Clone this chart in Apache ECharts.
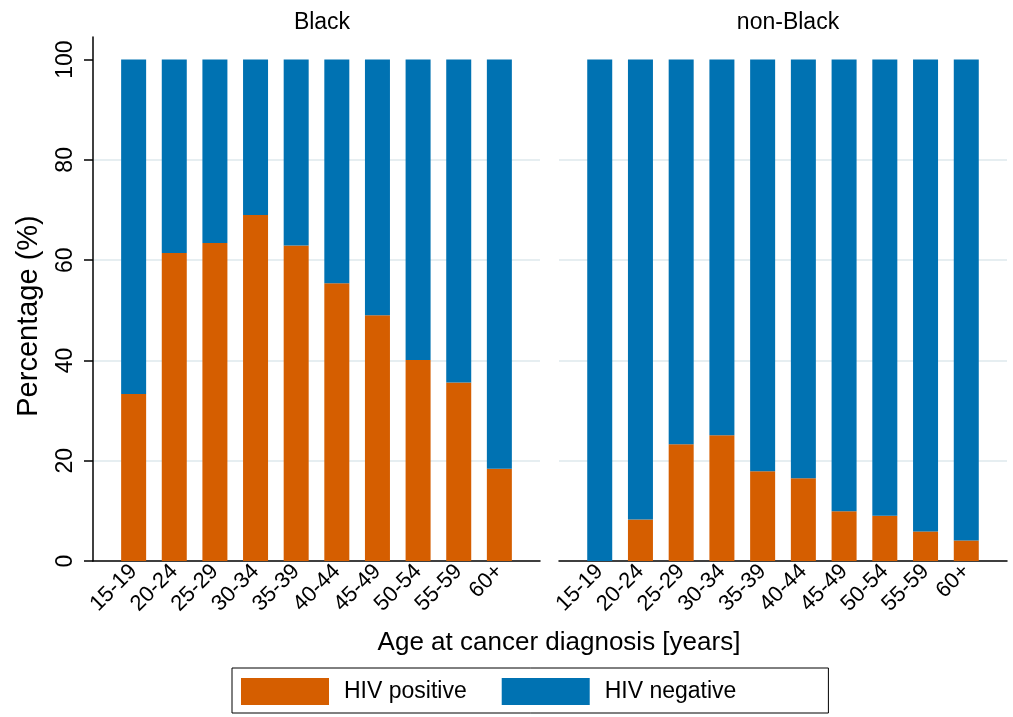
<!DOCTYPE html>
<html>
<head>
<meta charset="utf-8">
<script src="https://cdn.jsdelivr.net/npm/echarts@6/dist/echarts.min.js"></script>
<style>
  html, body { margin: 0; padding: 0; background: #fff; }
  #chart { width: 1013px; height: 717px; }
</style>
</head>
<body>
<div id="chart"></div>
<script>
// age groups
const ageGroups = ['15-19', '20-24', '25-29', '30-34', '35-39', '40-44', '45-49', '50-54', '55-59', '60+']

// Black panel (%)
const blackPositive = [33.3, 61.4, 63.4, 69.0, 62.9, 55.4, 49.0, 40.1, 35.6, 18.4]
const blackNegative = [66.7, 38.6, 36.6, 31.0, 37.1, 44.6, 51.0, 59.9, 64.4, 81.6]

// non-Black panel (%)
const nonBlackPositive = [0, 8.3, 23.3, 25.1, 17.9, 16.5, 9.9, 9.0, 5.9, 4.1]
const nonBlackNegative = [100, 91.7, 76.7, 74.9, 82.1, 83.5, 90.1, 91.0, 94.1, 95.9]

const yTicks = [0, 20, 40, 60, 80, 100]
const panelTitles = ['Black', 'non-Black']

const FONT = 'Liberation Sans, Arial, sans-serif'
const ORANGE = '#d55e00'
const BLUE = '#0072b2'
const GRID_COLOR = '#e6eef1'

// empty slot on each side of the bars, like the outer gaps of the original plot
const padCats = [''].concat(ageGroups, [''])
const pad = arr => [null].concat(arr, [null])

const chart = echarts.init(document.getElementById('chart'), null, { renderer: 'canvas' })

function xAxisFor (gridIndex) {
  return {
    type: 'category',
    gridIndex: gridIndex,
    data: padCats,
    boundaryGap: false,
    axisLine: { show: true, onZero: false, lineStyle: { color: '#000', width: 1.5 } },
    axisTick: { show: false },
    splitLine: { show: false },
    axisLabel: {
      interval: 0,
      rotate: 45,
      margin: 7,
      fontSize: 22,
      fontFamily: FONT,
      color: '#000'
    }
  }
}

function yAxisFor (gridIndex, showAxis) {
  return {
    type: 'value',
    gridIndex: gridIndex,
    min: 0,
    max: 104.5,
    interval: 20,
    name: showAxis ? 'Percentage (%)' : '',
    nameLocation: 'middle',
    nameRotate: 90,
    nameGap: 50,
    nameTextStyle: { fontSize: 29, fontFamily: FONT, color: '#000', padding: [0, 34, 0, 0] },
    axisLine: { show: showAxis, onZero: false, lineStyle: { color: '#000', width: 1.5 } },
    axisTick: { show: showAxis, length: 9, customValues: yTicks, lineStyle: { color: '#000', width: 1.5 } },
    axisLabel: {
      show: showAxis,
      rotate: 90,
      margin: 16,
      fontSize: 23,
      fontFamily: FONT,
      color: '#000',
      customValues: yTicks
    },
    splitLine: {
      show: true,
      showMinLine: false,
      showMaxLine: false,
      lineStyle: { color: GRID_COLOR, width: 2 }
    }
  }
}

function barSeries (name, data, idx, color) {
  return {
    name: name,
    type: 'bar',
    stack: 'panel' + idx,
    xAxisIndex: idx,
    yAxisIndex: idx,
    barWidth: 25,
    itemStyle: { color: color },
    data: pad(data)
  }
}

const option = {
  backgroundColor: '#fff',
  animation: false,
  title: [
    { text: panelTitles[0], left: 317, top: 6, textAlign: 'center',
      textStyle: { fontSize: 23, fontWeight: 'normal', fontFamily: FONT, color: '#000' } },
    { text: panelTitles[1], left: 783, top: 6, textAlign: 'center',
      textStyle: { fontSize: 23, fontWeight: 'normal', fontFamily: FONT, color: '#000' } }
  ],
  grid: [
    { left: 93, top: 37, width: 447, height: 524 },
    { left: 559, top: 37, width: 448, height: 524 }
  ],
  xAxis: [xAxisFor(0), xAxisFor(1)],
  yAxis: [yAxisFor(0, true), yAxisFor(1, false)],
  legend: {
    data: ['HIV positive', 'HIV negative'],
    left: 232,
    top: 668,
    orient: 'horizontal',
    icon: 'rect',
    itemWidth: 88,
    itemHeight: 27,
    itemGap: 35,
    padding: [10, 92, 8, 9],
    borderColor: '#000',
    borderWidth: 1,
    textStyle: { fontSize: 23, fontFamily: FONT, color: '#000', padding: [0, 0, 0, 10] }
  },
  graphic: [
    {
      type: 'text',
      x: 559,
      y: 643,
      style: {
        text: 'Age at cancer diagnosis [years]',
        fontSize: 26,
        fontFamily: FONT,
        fill: '#000',
        textAlign: 'center',
        textVerticalAlign: 'middle'
      }
    }
  ],
  series: [
    barSeries('HIV positive', blackPositive, 0, ORANGE),
    barSeries('HIV negative', blackNegative, 0, BLUE),
    barSeries('HIV positive', nonBlackPositive, 1, ORANGE),
    barSeries('HIV negative', nonBlackNegative, 1, BLUE)
  ]
}

chart.setOption(option)
</script>
</body>
</html>
